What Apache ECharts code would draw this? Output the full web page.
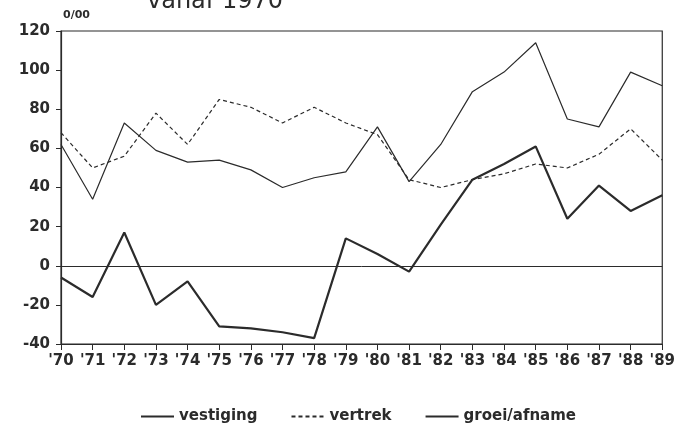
<!DOCTYPE html>
<html>
<head>
<meta charset="utf-8">
<script src="https://cdn.jsdelivr.net/npm/echarts@6/dist/echarts.min.js"></script>
<style>
  html, body { margin: 0; padding: 0; background: #fff; }
  #main { width: 678px; height: 430px; }
</style>
</head>
<body>
<div id="main"></div>
<script>
var years = ["'70","'71","'72","'73","'74","'75","'76","'77","'78","'79",
             "'80","'81","'82","'83","'84","'85","'86","'87","'88","'89"];
var vestiging = [62, 34, 73, 59, 53, 54, 49, 40, 45, 48, 71, 43, 62, 89, 99, 114, 75, 71, 99, 92];
var vertrek   = [68, 50, 56, 78, 62, 85, 81, 73, 81, 73, 67, 44, 40, 44, 47, 52, 50, 57, 70, 54];
var groei     = [-6, -16, 17, -20, -8, -31, -32, -34, -37, 14, 6, -3, 21, 44, 52, 61, 24, 41, 28, 36];
var yTicks = { min: -40, max: 120, step: 20 };

var ink = '#2b2b2b';
var font = 'DejaVu Sans';

var myChart = echarts.init(document.getElementById('main'));

var option = {
    animation: false,
    backgroundColor: '#fff',
    grid: {
        left: 61, right: 13, top: 31, bottom: 86,
        show: true, borderColor: ink, borderWidth: 1.2
    },
    graphic: [
        { type: 'text', left: 147, top: -10,
          style: { text: 'vanaf 1970', fill: ink, font: '24px "DejaVu Sans"' } },
        { type: 'text', left: 63, top: 10,
          style: { text: '0/00', fill: ink, font: 'bold 11px "DejaVu Sans"' } }
    ],
    legend: {
        left: 135, top: 404,
        itemWidth: 33, itemHeight: 14, itemGap: 33,
        itemStyle: { opacity: 0 },
        textStyle: { fontFamily: font, fontWeight: 'bold', fontSize: 15, color: ink },
        data: ['vestiging', 'vertrek', 'groei/afname']
    },
    xAxis: {
        type: 'category',
        data: years,
        boundaryGap: false,
        axisLine: { onZero: false, lineStyle: { color: ink, width: 1.2 } },
        axisTick: { show: true, length: 6, lineStyle: { color: ink } },
        axisLabel: { fontFamily: font, fontWeight: 'bold', fontSize: 15, color: ink, margin: 10, interval: 0 },
        splitLine: { show: false }
    },
    yAxis: {
        type: 'value',
        min: yTicks.min, max: yTicks.max, interval: yTicks.step,
        axisLine: { show: true, lineStyle: { color: ink, width: 1.2 } },
        axisTick: { show: true, length: 5, lineStyle: { color: ink } },
        axisLabel: { fontFamily: font, fontWeight: 'bold', fontSize: 15, color: ink, margin: 11 },
        splitLine: { show: false }
    },
    series: [
        {
            name: 'vestiging', type: 'line', data: vestiging,
            symbol: 'none',
            lineStyle: { color: ink, width: 1.2 },
            itemStyle: { color: ink }
        },
        {
            name: 'vertrek', type: 'line', data: vertrek,
            symbol: 'none',
            lineStyle: { color: ink, width: 1.2, type: [4, 3] },
            itemStyle: { color: ink }
        },
        {
            name: 'groei/afname', type: 'line', data: groei,
            symbol: 'none',
            lineStyle: { color: ink, width: 2.2 },
            itemStyle: { color: ink },
            markLine: {
                silent: true, symbol: 'none', label: { show: false },
                lineStyle: { color: ink, width: 1, type: 'solid' },
                data: [{ yAxis: 0 }]
            }
        }
    ]
};

myChart.setOption(option);
</script>
</body>
</html>
